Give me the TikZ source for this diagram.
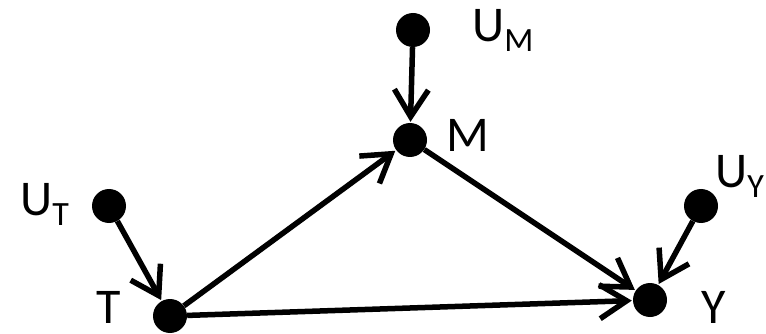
\documentclass[tikz,border=0pt]{standalone}
\usepackage{fontspec}
\setmainfont{Carlito}
\usepackage{tikz}
\usetikzlibrary{arrows.meta}
\newcommand{\sub}[1]{\raisebox{-10pt}{\fontsize{34}{34}\selectfont #1}}
\tikzset{
  var/.style  = {circle, fill=black, draw=none, minimum size=34pt, inner sep=0pt},
  lbl/.style  = {anchor=base west, inner sep=0pt, text depth=0pt, font=\fontsize{50}{50}\selectfont},
  edge/.style = {-{Straight Barb[length=27pt, width=34pt, line width=5.5pt]}, line width=5.5pt, shorten >=1pt},
}
\begin{document}
\begin{tikzpicture}[x=1pt, y=-1pt]
  \useasboundingbox (0,0) rectangle (766,334);
  % variables
  \node[var] (um) at (413,30) {};
  \node[var] (m)  at (410,140) {};
  \node[var] (ut) at (109,206) {};
  \node[var] (t)  at (170,316) {};
  \node[var] (uy) at (701,206) {};
  \node[var] (y)  at (650,300) {};

  % labels
  \node[lbl] (lum) at (472,42)  {U\sub{M}};
  \node[lbl] (lm)  at (446,152) {M};
  \node[lbl] (lut) at (20,215)  {U\sub{T}};
  \node[lbl] (lt)  at (96,323)  {T};
  \node[lbl] (luy) at (715,187) {U\sub{Y}};
  \node[lbl] (ly)  at (701,323) {Y};

  % edges
  \draw[edge] (um) -- (m);
  \draw[edge] (ut) -- (t);
  \draw[edge] (t)  -- (m);
  \draw[edge] (m)  -- (y);
  \draw[edge] (uy) -- (y);
  \draw[edge] (t)  -- (y);
\end{tikzpicture}
\end{document}
